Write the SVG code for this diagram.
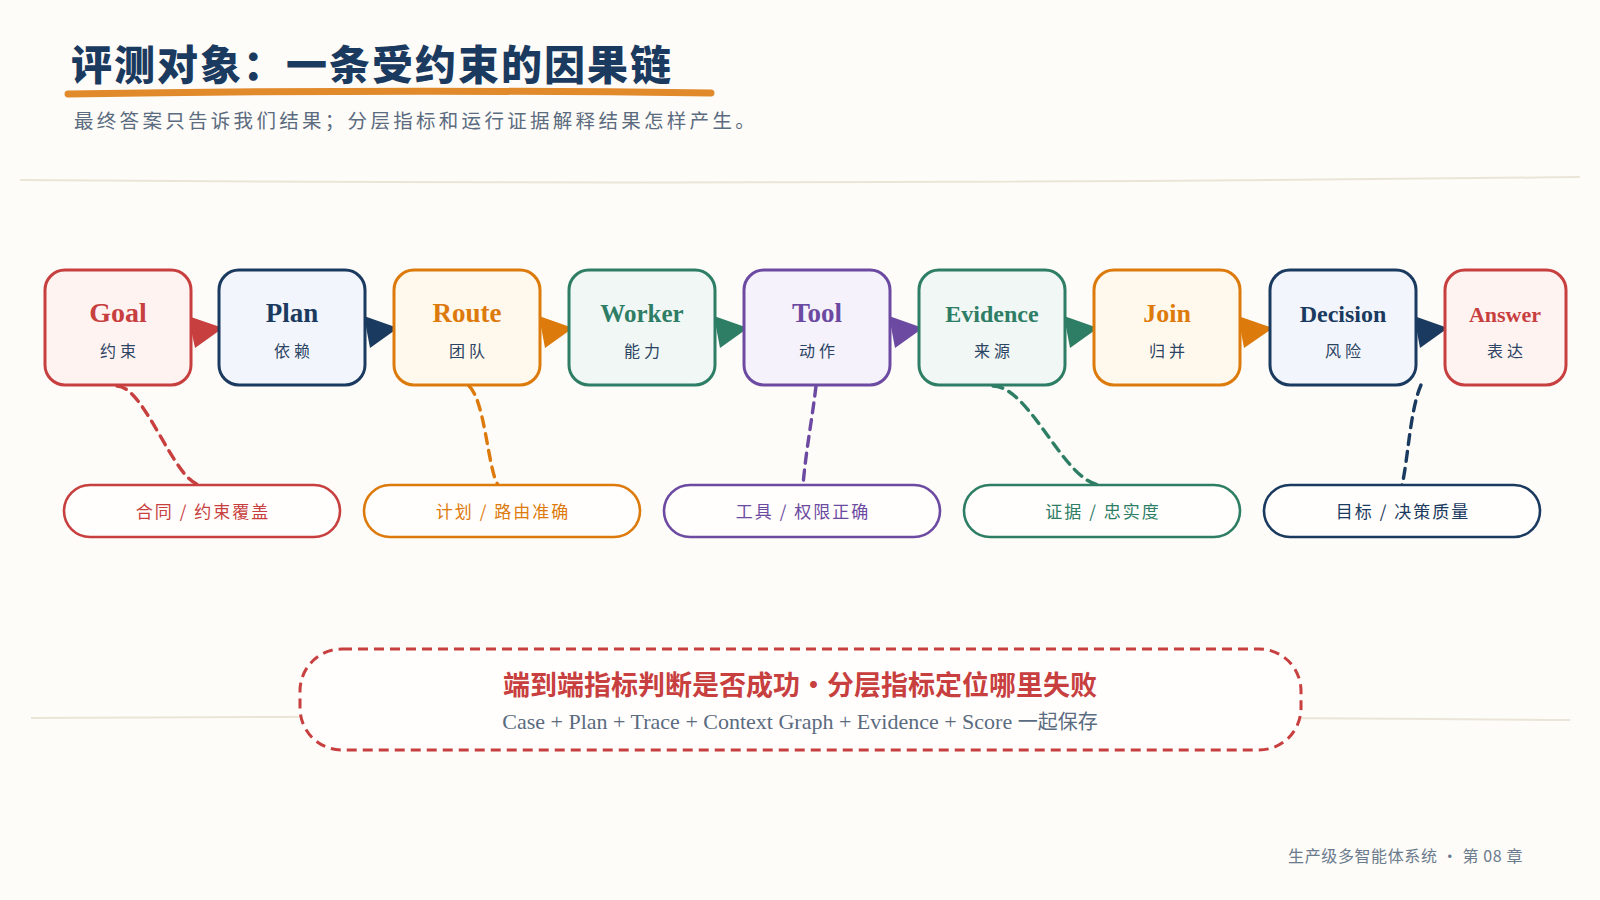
<svg xmlns="http://www.w3.org/2000/svg" width="1600" height="900" viewBox="0 0 1600 900">
<style>
.cjk{font-family:"Noto Sans CJK SC","Liberation Sans",sans-serif}
.ser{font-family:"Liberation Serif","Noto Sans CJK SC",serif}
.node rect{stroke-width:3}
.ttl{font-family:"Liberation Serif","Noto Sans CJK SC",serif;font-weight:bold;text-anchor:middle}
.sub{font-family:"Noto Sans CJK SC",sans-serif;font-size:16px;fill:#2c4463;text-anchor:middle;letter-spacing:4px}
.pill rect{fill:#fffefc;stroke-width:2.6}
.pill text{font-family:"Noto Sans CJK SC",sans-serif;font-size:17px;text-anchor:middle;letter-spacing:2px}
.dash{fill:none;stroke-width:3.4;stroke-dasharray:10 7;stroke-linecap:round}
.red{stroke:#c83f3f}.navy{stroke:#1b3a5f}.orange{stroke:#dd7a0c}.green{stroke:#2e7d65}.purple{stroke:#6c4aa2}
</style>
<rect x="0" y="0" width="1600" height="900" fill="#fdfcf8"/>

<g id="header">
<text x="71" y="80" class="cjk" font-size="41" font-weight="900" fill="#1b3a5f" letter-spacing="2">评测对象：一条受约束的因果链</text>
<path d="M68,94 Q390,89 711,93" fill="none" stroke="#e08a2b" stroke-width="7" stroke-linecap="round"/>
<text x="74" y="128" class="cjk" font-size="19.5" fill="#5b6b80" letter-spacing="3.3">最终答案只告诉我们结果；分层指标和运行证据解释结果怎样产生。</text>
<path d="M20,180 Q800,186 1580,177" fill="none" stroke="#ebe5d8" stroke-width="2"/>
<path d="M31,718 Q800,714 1570,720" fill="none" stroke="#ebe5d8" stroke-width="2"/>
</g>

<g id="connectors">
<polygon points="188,316 223,328 195,348" fill="#c83f3f"/>
<polygon points="364,316 398,328 370,348" fill="#1b3a5f"/>
<polygon points="539,316 573,328 545,348" fill="#dd7a0c"/>
<polygon points="714,316 748,328 720,348" fill="#2e7d65"/>
<polygon points="889,316 923,328 895,348" fill="#6c4aa2"/>
<polygon points="1064,316 1098,328 1070,348" fill="#2e7d65"/>
<polygon points="1238,316 1273,328 1244,348" fill="#dd7a0c"/>
<polygon points="1414,316 1448,328 1420,348" fill="#1b3a5f"/>
<path class="dash red" d="M117,386 C145,386 175,484 201,485"/>
<path class="dash orange" d="M469,386 C485,400 488,470 498,485"/>
<path class="dash purple" d="M816,386 C812,420 806,450 803,485"/>
<path class="dash green" d="M993,386 C1030,386 1065,484 1101,485"/>
<path class="dash navy" d="M1421,385 C1410,410 1408,460 1402,485"/>
</g>

<g id="node-goal" class="node"><rect x="45" y="270" width="146" height="115" rx="20" fill="#fff3f2" stroke="#c83f3f"/><text x="118" y="322" class="ttl" font-size="28" fill="#c83f3f">Goal</text><text x="120" y="357" class="sub">约束</text></g>
<g id="node-plan" class="node"><rect x="219" y="270" width="146" height="115" rx="20" fill="#f2f6fc" stroke="#1b3a5f"/><text x="292" y="322" class="ttl" font-size="27" fill="#1b3a5f">Plan</text><text x="294" y="357" class="sub">依赖</text></g>
<g id="node-route" class="node"><rect x="394" y="270" width="146" height="115" rx="20" fill="#fff8ec" stroke="#dd7a0c"/><text x="467" y="322" class="ttl" font-size="27" fill="#dd7a0c">Route</text><text x="469" y="357" class="sub">团队</text></g>
<g id="node-worker" class="node"><rect x="569" y="270" width="146" height="115" rx="20" fill="#f0f7f4" stroke="#2e7d65"/><text x="642" y="322" class="ttl" font-size="25" fill="#2e7d65">Worker</text><text x="644" y="357" class="sub">能力</text></g>
<g id="node-tool" class="node"><rect x="744" y="270" width="146" height="115" rx="20" fill="#f5f2fb" stroke="#6c4aa2"/><text x="817" y="322" class="ttl" font-size="27" fill="#6c4aa2">Tool</text><text x="819" y="357" class="sub">动作</text></g>
<g id="node-evidence" class="node"><rect x="919" y="270" width="146" height="115" rx="20" fill="#f0f7f4" stroke="#2e7d65"/><text x="992" y="322" class="ttl" font-size="24" fill="#2e7d65">Evidence</text><text x="994" y="357" class="sub">来源</text></g>
<g id="node-join" class="node"><rect x="1094" y="270" width="146" height="115" rx="20" fill="#fff8ec" stroke="#dd7a0c"/><text x="1167" y="322" class="ttl" font-size="26" fill="#dd7a0c">Join</text><text x="1169" y="357" class="sub">归并</text></g>
<g id="node-decision" class="node"><rect x="1270" y="270" width="146" height="115" rx="20" fill="#f2f6fc" stroke="#1b3a5f"/><text x="1343" y="322" class="ttl" font-size="24" fill="#1b3a5f">Decision</text><text x="1345" y="357" class="sub">风险</text></g>
<g id="node-answer" class="node"><rect x="1445" y="270" width="121" height="115" rx="20" fill="#fff3f2" stroke="#c83f3f"/><text x="1505" y="322" class="ttl" font-size="22" fill="#c83f3f">Answer</text><text x="1507" y="357" class="sub">表达</text></g>

<g id="pill-1" class="pill"><rect x="64" y="485" width="276" height="52" rx="26" stroke="#c83f3f"/><text x="203" y="518" fill="#c83f3f">合同 / 约束覆盖</text></g>
<g id="pill-2" class="pill"><rect x="364" y="485" width="276" height="52" rx="26" stroke="#dd7a0c"/><text x="503" y="518" fill="#dd7a0c">计划 / 路由准确</text></g>
<g id="pill-3" class="pill"><rect x="664" y="485" width="276" height="52" rx="26" stroke="#6c4aa2"/><text x="803" y="518" fill="#6c4aa2">工具 / 权限正确</text></g>
<g id="pill-4" class="pill"><rect x="964" y="485" width="276" height="52" rx="26" stroke="#2e7d65"/><text x="1103" y="518" fill="#2e7d65">证据 / 忠实度</text></g>
<g id="pill-5" class="pill"><rect x="1264" y="485" width="276" height="52" rx="26" stroke="#1b3a5f"/><text x="1403" y="518" fill="#1b3a5f">目标 / 决策质量</text></g>

<g id="summary">
<rect x="300" y="649" width="1001" height="101" rx="42" fill="#fffefd" stroke="#c83f3f" stroke-width="3" stroke-dasharray="10 6"/>
<text x="800" y="695" class="cjk" font-size="27" font-weight="bold" fill="#c83f3f" text-anchor="middle">端到端指标判断是否成功·分层指标定位哪里失败</text>
<text x="800" y="729" class="ser" font-size="22" fill="#5b6b80" text-anchor="middle">Case + Plan + Trace + Context Graph + Evidence + Score <tspan class="cjk" font-size="20">一起保存</tspan></text>
</g>

<g id="footer">
<text x="1523" y="862" class="cjk" font-size="16" fill="#6b7a8c" text-anchor="end" letter-spacing="0.6">生产级多智能体系统 · 第 08 章</text>
</g>
</svg>
